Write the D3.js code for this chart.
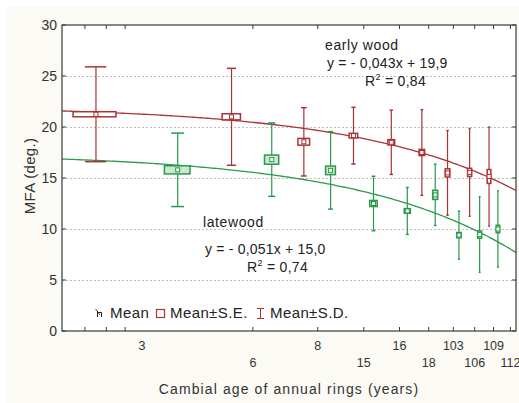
<!DOCTYPE html>
<html>
<head>
<meta charset="utf-8">
<script src="https://cdn.jsdelivr.net/npm/d3@7"></script>
<style>
  html, body { margin: 0; padding: 0; background: #ffffff; }
  svg { display: block; font-family: "Liberation Sans", Arial, sans-serif; }
</style>
</head>
<body>
<div id="chart"></div>
<script>
// cambial age groups (labels on the log x axis, one per group position)
const ageLabels = ['3', '6', '8', '15', '16', '18', '103', '106', '109', '112'];
const groupPos = [1, 2, 3, 4, 5, 6, 7, 8, 9, 10];

// early wood
const earlyMean = [21.25, 21.0, 18.55, 19.15, 18.5, 17.5, 15.5, 15.55, 15.15];
const earlySE = [0.25, 0.3, 0.33, 0.23, 0.26, 0.3, 0.4, 0.4, 0.68];
const earlySD = [4.65, 4.75, 3.35, 2.78, 3.15, 4.2, 4.15, 4.3, 4.85];

// latewood
const lateMean = [15.8, 16.8, 15.75, 12.5, 11.77, 13.35, 9.4, 9.45, 10.0];
const lateSE = [0.4, 0.45, 0.42, 0.3, 0.23, 0.45, 0.26, 0.36, 0.37];
const lateSD = [3.6, 3.6, 3.8, 2.67, 2.3, 3.0, 2.35, 3.7, 3.76];

// fitted lines (in axis units)
const earlyFit = [22.06, -0.80];
const lateFit = [17.43, -0.94];

const yTicks = [0, 5, 10, 15, 20, 25, 30];
const xTicks = [0.7, 0.8, 0.9, 2, 3, 4, 5, 6, 7, 8, 9, 10];

const width = 519, height = 403;
const plot = { left: 62, right: 516, top: 25, bottom: 331 };
const red = '#a93434', green = '#2a9a4c';

const svg = d3.select('#chart').append('svg')
    .attr('width', width)
    .attr('height', height);

svg.append('rect').attr('x', 7).attr('y', 7)
    .attr('width', width - 7).attr('height', height - 7)
    .attr('fill', '#fbfaf4');
svg.append('rect')
    .attr('x', plot.left).attr('y', plot.top)
    .attr('width', plot.right - plot.left).attr('height', plot.bottom - plot.top)
    .attr('fill', '#ffffff');

const x = d3.scaleLog()
    .domain([Math.exp(-0.5), Math.exp(2.3375)])
    .range([plot.left, plot.right]);
const y = d3.scaleLinear()
    .domain([0, 30])
    .range([plot.bottom, plot.top]);

svg.append('defs').append('clipPath').attr('id', 'clip')
    .append('rect')
    .attr('x', plot.left).attr('y', plot.top)
    .attr('width', plot.right - plot.left + 2).attr('height', plot.bottom - plot.top);

// grid
svg.append('g')
    .selectAll('line')
    .data(yTicks.filter(d => d > 0 && d < 30))
    .join('line')
    .attr('x1', plot.left).attr('x2', plot.right)
    .attr('y1', d => Math.round(y(d)) + 0.5).attr('y2', d => Math.round(y(d)) + 0.5)
    .attr('stroke', '#bdbdbd')
    .attr('stroke-dasharray', '2,2');

// fitted curves
const line = d3.line().x(d => x(d[0])).y(d => y(d[1]));
const ks = d3.range(0, 201).map(i => Math.exp(-0.5 + i * 2.8375 / 200));
const curves = svg.append('g').attr('clip-path', 'url(#clip)').attr('fill', 'none');
curves.append('path')
    .attr('d', line(ks.map(k => [k, earlyFit[0] + earlyFit[1] * k])))
    .attr('stroke', red).attr('stroke-width', 1.3);
curves.append('path')
    .attr('d', line(ks.map(k => [k, lateFit[0] + lateFit[1] * k])))
    .attr('stroke', green).attr('stroke-width', 1.3);

function drawSeries(mean, se, sd, offset, color, fill) {
    const rows = mean.map((m, i) => ({ k: groupPos[i] + offset, m, se: se[i], sd: sd[i] }));
    const g = svg.append('g');
    const item = g.selectAll('g').data(rows).join('g');
    item.append('line')
        .attr('x1', d => x(d.k)).attr('x2', d => x(d.k))
        .attr('y1', d => y(d.m + d.sd)).attr('y2', d => y(d.m - d.sd))
        .attr('stroke', color).attr('stroke-width', 1.2);
    item.selectAll('.cap')
        .data(d => [[d.k, d.m + d.sd], [d.k, d.m - d.sd]])
        .join('line')
        .attr('class', 'cap')
        .attr('x1', d => x(d[0] - 0.05)).attr('x2', d => x(d[0] + 0.05))
        .attr('y1', d => y(d[1])).attr('y2', d => y(d[1]))
        .attr('stroke', color).attr('stroke-width', 1.5);
    item.append('rect')
        .attr('x', d => x(d.k - 0.1))
        .attr('width', d => x(d.k + 0.1) - x(d.k - 0.1))
        .attr('y', d => y(d.m + d.se))
        .attr('height', d => y(d.m - d.se) - y(d.m + d.se))
        .attr('fill', fill).attr('stroke', color).attr('stroke-width', 1.5);
    item.append('rect')
        .attr('x', d => x(d.k) - 2).attr('y', d => y(d.m) - 2)
        .attr('width', 4).attr('height', 4)
        .attr('fill', '#fff').attr('stroke', color).attr('stroke-width', 1);
}
drawSeries(earlyMean, earlySE, earlySD, -0.25, red, '#ffffff');
drawSeries(lateMean, lateSE, lateSD, 0.25, green, '#cde7d2');

// frame and ticks
svg.append('rect')
    .attr('x', plot.left).attr('y', plot.top)
    .attr('width', plot.right - plot.left).attr('height', plot.bottom - plot.top)
    .attr('fill', 'none').attr('stroke', '#3a3a3a').attr('stroke-width', 1.2);

const ticks = svg.append('g').attr('stroke', '#3a3a3a');
ticks.selectAll('.yt').data(yTicks).join('line')
    .attr('x1', plot.left).attr('x2', plot.left + 4)
    .attr('y1', d => y(d)).attr('y2', d => y(d));
ticks.selectAll('.yr').data(yTicks).join('line')
    .attr('x1', plot.right - 4).attr('x2', plot.right)
    .attr('y1', d => y(d)).attr('y2', d => y(d));
ticks.selectAll('.xb').data(xTicks).join('line')
    .attr('x1', d => x(d)).attr('x2', d => x(d))
    .attr('y1', plot.bottom - 4).attr('y2', plot.bottom);
ticks.selectAll('.xt').data(xTicks).join('line')
    .attr('x1', d => x(d)).attr('x2', d => x(d))
    .attr('y1', plot.top).attr('y2', plot.top + 4);

// tick labels
svg.append('g')
    .selectAll('text')
    .data(yTicks)
    .join('text')
    .attr('x', 57)
    .attr('y', d => y(d))
    .attr('dy', '0.36em')
    .attr('text-anchor', 'end')
    .attr('font-size', 14)
    .attr('fill', '#333')
    .text(d => d);

svg.append('g')
    .selectAll('text')
    .data(ageLabels)
    .join('text')
    .attr('x', (d, i) => x(groupPos[i]))
    .attr('y', (d, i) => i % 2 === 0 ? 345 : 362)
    .attr('dy', '0.36em')
    .attr('text-anchor', 'middle')
    .attr('font-size', 12.5)
    .attr('fill', '#333')
    .text(d => d);

// axis titles
svg.append('text')
    .attr('x', 289).attr('y', 389)
    .attr('dy', '0.36em')
    .attr('text-anchor', 'middle')
    .attr('font-size', 14)
    .attr('letter-spacing', 1.1)
    .attr('fill', '#333')
    .text('Cambial age of annual rings (years)');
svg.append('text')
    .attr('transform', 'translate(30,176) rotate(-90)')
    .attr('dy', '0.36em')
    .attr('text-anchor', 'middle')
    .attr('font-size', 15)
    .attr('letter-spacing', 0.3)
    .attr('fill', '#333')
    .text('MFA (deg.)');

// annotations
const notes = [
    ['early wood', 325, 50, 0.6],
    ['y = - 0,043x + 19,9', 327, 68, 0.2],
    ['latewood', 203, 227, 0.6],
    ['y = - 0,051x + 15,0', 205, 254, 0.2]
];
svg.append('g')
    .selectAll('text')
    .data(notes)
    .join('text')
    .attr('x', d => d[1]).attr('y', d => d[2])
    .attr('font-size', 14)
    .attr('letter-spacing', d => d[3])
    .attr('fill', '#222')
    .text(d => d[0]);
const r2 = [['0,84', 365, 86], ['0,74', 247, 272]];
r2.forEach(d => {
    const t = svg.append('text').attr('x', d[1]).attr('y', d[2])
        .attr('font-size', 14).attr('letter-spacing', 0.3).attr('fill', '#222');
    t.append('tspan').text('R');
    t.append('tspan').attr('font-size', 9).attr('dy', -6).text('2');
    t.append('tspan').attr('dy', 6).text(' = ' + d[0]);
});

// legend
const lg = svg.append('g').attr('font-size', 15).attr('letter-spacing', 0.4).attr('fill', '#222');
lg.append('path').attr('d', 'M95.5,309 L100,315').attr('stroke', red).attr('fill', 'none');
lg.append('path').attr('d', 'M97.5,311 V317 M97.5,312.5 H101.5 V317').attr('stroke', '#222').attr('fill', 'none');
lg.append('text').attr('x', 110).attr('y', 313).attr('dy', '0.36em').text('Mean');
lg.append('rect').attr('x', 156.5).attr('y', 309.5).attr('width', 8).attr('height', 8)
    .attr('fill', 'none').attr('stroke', red).attr('stroke-width', 1.2);
lg.append('text').attr('x', 170).attr('y', 313).attr('dy', '0.36em').text('Mean±S.E.');
lg.append('path').attr('d', 'M257,308.5 H264 M260.5,308.5 V318.5 M257,318.5 H264')
    .attr('stroke', red).attr('fill', 'none');
lg.append('text').attr('x', 270).attr('y', 313).attr('dy', '0.36em').text('Mean±S.D.');
</script>
</body>
</html>
